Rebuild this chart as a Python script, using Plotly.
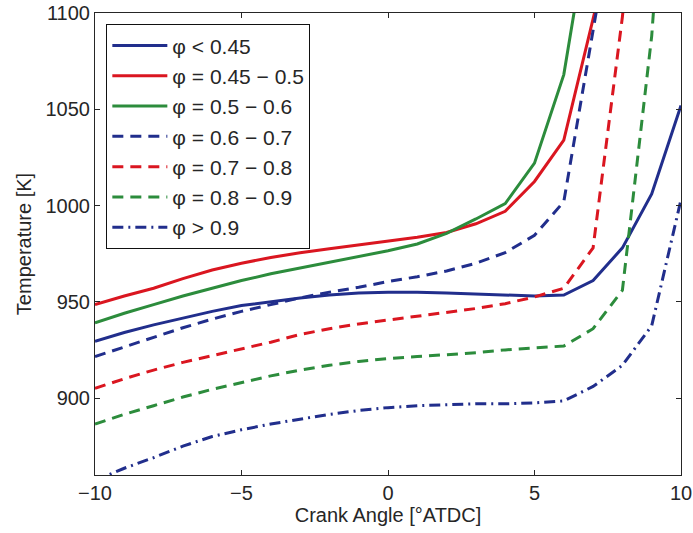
import plotly.graph_objects as go

crank_angle = [-10, -9, -8, -7, -6, -5, -4, -3, -2, -1, 0, 1, 2, 3, 4, 5, 6, 7, 8, 9, 10]

t_lt_045 = [929.5, 934, 938, 941.5, 945, 948, 950, 952, 953.5, 954.5, 955, 955, 954.5, 954, 953.5, 953, 953.5, 961, 978, 1006, 1052]
t_045_05 = [948.5, 953, 957, 962, 966.5, 970, 973, 975.5, 977.5, 979.5, 981.5, 983.5, 986, 990.5, 997, 1012.5, 1034, 1096, 1160, None, None]
t_05_06 = [939, 944, 948.5, 953, 957, 961, 964.5, 967.5, 970.5, 973.5, 976.5, 980, 985.5, 993, 1001, 1022, 1068, 1160, None, None, None]
t_06_07 = [921.5, 926.5, 931.5, 936.5, 941, 945, 948.5, 952, 955, 957.5, 960.5, 963, 966, 970, 975.5, 984.5, 1002, 1090, 1180, None, None]
t_07_08 = [905, 910, 914.5, 918.5, 922, 925.5, 929, 933, 936, 938.5, 940.5, 942.5, 944.5, 946.5, 949, 952.5, 957, 978, 1098, 1250, None]
t_08_09 = [886.5, 891.5, 896, 900.5, 904.5, 908, 911.5, 914.5, 917, 919, 920.5, 921.5, 922.5, 923.5, 925, 926, 927, 936, 956, 1088, 1300]
t_gt_09 = [857, 863.5, 869, 875, 880, 883.5, 886.5, 889, 891.5, 893.5, 895, 896, 896.5, 897, 897, 897.5, 898.5, 906, 917, 937.5, 1003]

series_names = ["φ < 0.45", "φ = 0.45 − 0.5", "φ = 0.5 − 0.6", "φ = 0.6 − 0.7",
                "φ = 0.7 − 0.8", "φ = 0.8 − 0.9", "φ > 0.9"]

x_tick_vals = [-10, -5, 0, 5, 10]
x_tick_text = ["−10", "−5", "0", "5", "10"]
y_tick_vals = [900, 950, 1000, 1050, 1100]

BLUE = "rgb(33,46,140)"
RED = "rgb(218,22,32)"
GREEN = "rgb(44,140,60)"
DASH = "11px,7px"
DASHDOT = "11px,5px,2px,5px"

styles = [
    (BLUE, "solid"), (RED, "solid"), (GREEN, "solid"),
    (BLUE, DASH), (RED, DASH), (GREEN, DASH), (BLUE, DASHDOT),
]
data = [t_lt_045, t_045_05, t_05_06, t_06_07, t_07_08, t_08_09, t_gt_09]

FONT = "Liberation Sans, Arial"
TXT = "#262626"

fig = go.Figure()
for name, ys, (col, dash) in zip(series_names, data, styles):
    fig.add_trace(go.Scatter(
        x=crank_angle, y=ys, mode="lines", name=name,
        line=dict(color=col, width=3, dash=dash), connectgaps=False,
    ))

axis_common = dict(
    showgrid=False, zeroline=False, showline=True, linecolor="#262626",
    linewidth=1, mirror="ticks", ticks="inside", ticklen=5, tickcolor="#262626",
    tickfont=dict(family=FONT, size=20, color=TXT), automargin=False,
)

fig.update_layout(
    width=693, height=533,
    margin=dict(l=95, r=12, t=13, b=58),
    paper_bgcolor="white", plot_bgcolor="white",
    font=dict(family=FONT, size=20, color=TXT),
    xaxis=dict(range=[-10, 10], tickvals=x_tick_vals, ticktext=x_tick_text,
               title=dict(text="Crank Angle [°ATDC]", font=dict(size=20), standoff=4),
               **axis_common),
    yaxis=dict(range=[860, 1100], tickvals=y_tick_vals,
               title=dict(text="Temperature [K]", font=dict(size=20), standoff=8),
               **axis_common),
    showlegend=True,
    legend=dict(
        x=0.019, y=0.976, xanchor="left", yanchor="top",
        bgcolor="white", bordercolor="#111", borderwidth=1.2,
        font=dict(family=FONT, size=21, color=TXT),
        tracegroupgap=0, itemwidth=55,
    ),
)

fig.write_html(
    "out.html",
    config={"displayModeBar": False},
    post_script="document.body.style.margin='0';document.body.style.overflow='hidden';",
)
